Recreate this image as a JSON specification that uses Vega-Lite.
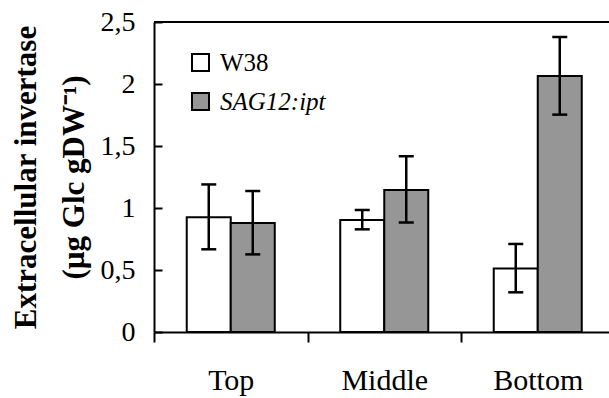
{
  "$schema": "https://vega.github.io/schema/vega-lite/v6.json",
  "width": 455,
  "height": 310,
  "autosize": {"type": "none"},
  "padding": {"left": 154, "top": 22, "right": 0, "bottom": 66},
  "background": "white",
  "config": {
    "view": {"stroke": null},
    "font": "Liberation Serif",
    "axis": {"labelFont": "Liberation Serif", "titleFont": "Liberation Serif", "labelColor": "black", "titleColor": "black", "domainColor": "black", "tickColor": "black", "domainWidth": 2, "tickWidth": 2, "grid": false}
  },
  "data": {
    "values": [
      {"pos": "Top", "series": "W38", "value": 0.925, "lo": 0.667, "hi": 1.19},
      {"pos": "Top", "series": "SAG12:ipt", "value": 0.88, "lo": 0.626, "hi": 1.137},
      {"pos": "Middle", "series": "W38", "value": 0.903, "lo": 0.828, "hi": 0.984},
      {"pos": "Middle", "series": "SAG12:ipt", "value": 1.145, "lo": 0.884, "hi": 1.417},
      {"pos": "Bottom", "series": "W38", "value": 0.513, "lo": 0.32, "hi": 0.71},
      {"pos": "Bottom", "series": "SAG12:ipt", "value": 2.065, "lo": 1.753, "hi": 2.379}
    ]
  },
  "encoding": {
    "x": {
      "field": "pos", "type": "nominal", "sort": ["Top", "Middle", "Bottom"],
      "scale": {"paddingInner": 0, "paddingOuter": 0, "range": [0, 460.5]},
      "axis": {"title": null, "labelAngle": 0, "labelFontSize": 30, "tickSize": 10, "labelPadding": 23, "tickBand": "extent"}
    },
    "xOffset": {"field": "series", "type": "nominal", "sort": ["W38", "SAG12:ipt"], "scale": {"paddingInner": 0, "paddingOuter": 0.744}}
  },
  "layer": [
    {
      "mark": {"type": "bar", "stroke": "black", "strokeWidth": 2},
      "encoding": {
        "y": {
          "field": "value", "type": "quantitative",
          "scale": {"domain": [0, 2.5], "nice": false},
          "axis": {
            "title": ["Extracellular invertase", "(µg Glc gDW⁻¹)"],
            "values": [0, 0.5, 1, 1.5, 2, 2.5],
            "labelExpr": "replace(format(datum.value, '~g'), '.', ',')",
            "labelFontSize": 28, "tickSize": -8, "labelPadding": 27,
            "titleFontSize": 31, "titleFontWeight": "bold", "titleLineHeight": 48,
            "titleAngle": -90, "titleBaseline": "alphabetic", "titleAlign": "center",
            "titleX": -119, "titleY": 155
          }
        },
        "fill": {
          "field": "series", "type": "nominal", "sort": ["W38", "SAG12:ipt"],
          "scale": {"domain": ["W38", "SAG12:ipt"], "range": ["white", "#969696"]},
          "legend": {
            "orient": "none", "legendX": 34, "legendY": 28, "title": null,
            "symbolType": "square", "symbolSize": 289, "symbolStrokeColor": "black", "symbolStrokeWidth": 2,
            "labelFontSize": 25, "labelFont": "Liberation Serif", "labelColor": "black",
            "labelOffset": 7, "rowPadding": 13, "padding": 0, "labelLimit": 300,
            "encode": {"labels": {"update": {"fontStyle": {"signal": "datum.label === 'SAG12:ipt' ? 'italic' : 'normal'"}}}}
          }
        }
      }
    },
    {
      "mark": {"type": "rule", "strokeWidth": 2.5, "color": "black"},
      "encoding": {
        "y": {"field": "lo", "type": "quantitative"},
        "y2": {"field": "hi"}
      }
    },
    {
      "mark": {"type": "tick", "size": 15, "thickness": 2.5, "color": "black", "opacity": 1},
      "encoding": {"y": {"field": "lo", "type": "quantitative"}}
    },
    {
      "mark": {"type": "tick", "size": 15, "thickness": 2.5, "color": "black", "opacity": 1},
      "encoding": {"y": {"field": "hi", "type": "quantitative"}}
    },
    {
      "mark": {"type": "rule", "strokeWidth": 2, "color": "black"},
      "encoding": {"y": {"datum": 2.5, "type": "quantitative"}, "x": {"value": 0}, "x2": {"value": 455}, "xOffset": null}
    }
  ]
}
